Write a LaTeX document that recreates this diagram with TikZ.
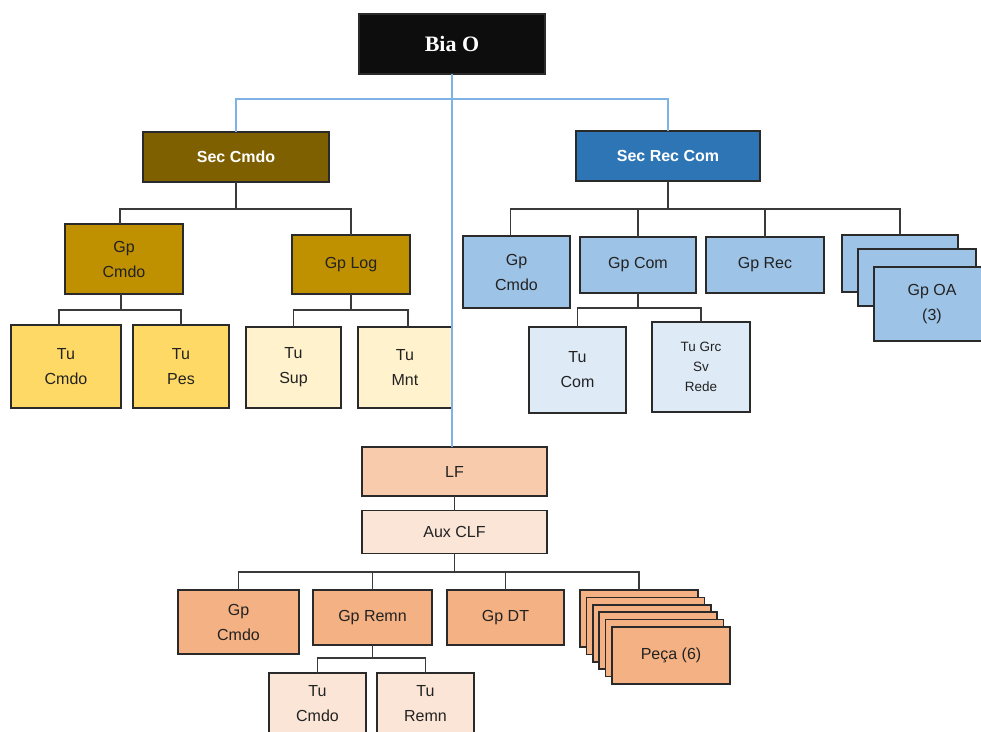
\documentclass[tikz,border=0pt]{standalone}
\usepackage{fontspec}
\setmainfont{Liberation Sans}
\newfontfamily\titlefont{Liberation Serif}

% fills
\definecolor{topblack}{HTML}{0D0D0D}
\definecolor{brownSec}{HTML}{7F6000}
\definecolor{goldGp}{HTML}{BF9000}
\definecolor{yellowTu}{HTML}{FFD966}
\definecolor{creamTu}{HTML}{FFF2CC}
\definecolor{blueSec}{HTML}{2E75B6}
\definecolor{blueGp}{HTML}{9DC3E6}
\definecolor{paleblueTu}{HTML}{DEEBF7}
\definecolor{peachLF}{HTML}{F8CBAD}
\definecolor{palepeach}{HTML}{FBE5D6}
\definecolor{orangeGp}{HTML}{F4B183}
% lines and text
\definecolor{boxline}{HTML}{2A2A2A}
\definecolor{linkline}{HTML}{3A3A3A}
\definecolor{bluelinkcol}{HTML}{7FB2E5}
\definecolor{labeltext}{HTML}{222222}

\tikzset{
  box/.style={draw=boxline, line width=1.6pt, inner sep=0pt, outer sep=0pt,
    align=center, text=labeltext, font=\fontsize{16}{25}\selectfont},
  sz/.style 2 args={minimum width=#1pt, minimum height=#2pt},
  headbox/.style={box, text=white, font=\bfseries\fontsize{16}{18}\selectfont},
  smalltext/.style={font=\fontsize{13.5}{20}\selectfont},
  link/.style={draw=linkline, line width=1.8pt},
  bluelink/.style={draw=bluelinkcol, line width=1.6pt}
}

\begin{document}
\begin{tikzpicture}[x=1pt, y=-1pt]
\useasboundingbox (0,0) rectangle (981,731);
\clip (0,0) rectangle (981,731);
\fill[white] (0,0) rectangle (981,731);

% bus levels
\coordinate (busTop) at (0,99);
\coordinate (busSecC) at (0,209);
\coordinate (busGpL) at (0,310);
\coordinate (busSecR) at (0,209);
\coordinate (busGpCom) at (0,308);
\coordinate (busAux) at (0,572);
\coordinate (busRemn) at (0,658);

% ---------- top ----------
\node[box, fill=topblack, text=white, sz={186}{60},
      font=\titlefont\bfseries\fontsize{22}{26}\selectfont] (biao) at (452,44) {Bia O};

% ---------- Sec Cmdo branch ----------
\node[headbox, fill=brownSec, sz={186}{50}] (seccmdo) at (236,157) {Sec Cmdo};
\node[box, fill=goldGp, sz={118}{70}] (gpcmdoA) at (124,259) {Gp\\Cmdo};
\node[box, fill=goldGp, sz={118}{59}] (gplog) at (351,264.5) {Gp Log};
\node[box, fill=yellowTu, sz={110}{83}] (tucmdoA) at (66,366.5) {Tu\\Cmdo};
\node[box, fill=yellowTu, sz={96}{83}] (tupes) at (181,366.5) {Tu\\Pes};
\node[box, fill=creamTu, sz={95}{81}] (tusup) at (293.5,367.5) {Tu\\Sup};
\node[box, fill=creamTu, sz={94}{81}] (tumnt) at (405,367.5) {Tu\\Mnt};

% ---------- Sec Rec Com branch ----------
\node[headbox, fill=blueSec, sz={184}{50}] (secrec) at (668,156) {Sec Rec Com};
\node[box, fill=blueGp, sz={107}{72}] (gpcmdoB) at (516.5,272) {Gp\\Cmdo};
\node[box, fill=blueGp, sz={116}{56}] (gpcom) at (638,265) {Gp Com};
\node[box, fill=blueGp, sz={118}{56}] (gprec) at (765,265) {Gp Rec};
\node[box, fill=blueGp, sz={116}{57}] (oa1) at (900,263.5) {};
\node[box, fill=blueGp, sz={118}{57}] (oa2) at (917,277.5) {};
\node[box, fill=blueGp, sz={116}{74}] (oa3) at (932,304) {Gp OA\\(3)};
\node[box, fill=paleblueTu, sz={97}{86}] (tucom) at (577.5,370) {Tu\\Com};
\node[box, fill=paleblueTu, sz={98}{90}, smalltext] (tugrc) at (701,367) {Tu Grc\\Sv\\Rede};

% ---------- LF branch ----------
\node[box, fill=peachLF, sz={185}{49}] (lf) at (454.5,471.5) {LF};
\node[box, fill=palepeach, sz={185}{43}] (aux) at (454.5,532) {Aux CLF};
\node[box, fill=orangeGp, sz={121}{64}] (gpcmdoC) at (238.5,622) {Gp\\Cmdo};
\node[box, fill=orangeGp, sz={119}{55}] (gpremn) at (372.5,617.5) {Gp Remn};
\node[box, fill=orangeGp, sz={117}{55}] (gpdt) at (505.5,617.5) {Gp DT};
\foreach \i in {0,...,4}
  \node[box, fill=orangeGp, sz={118}{57}] (peca\i) at ({639+6.4*\i},{618.5+7.4*\i}) {};
\node[box, fill=orangeGp, sz={118}{57}] (peca5) at (671,655.5) {Peça (6)};
\node[box, fill=palepeach, sz={97}{62}] (tucmdoC) at (317.5,704) {Tu\\Cmdo};
\node[box, fill=palepeach, sz={97}{62}] (turemn) at (425.5,704) {Tu\\Remn};

% connector end points set slightly off the box centres
\coordinate (gpcmdoAtop) at ([xshift=-4pt]gpcmdoA.north);
\coordinate (gpcmdoAbot) at ([xshift=-3pt]gpcmdoA.south);
\coordinate (tucmdoAtop) at ([xshift=-7pt]tucmdoA.north);
\coordinate (tumnttop) at ([xshift=3pt]tumnt.north);
\coordinate (gpcmdoBtop) at ([xshift=-6pt]gpcmdoB.north);

% ---------- blue links from Bia O ----------
\draw[bluelink] (biao.south) -- (biao.south |- lf.north);
\draw[bluelink] (seccmdo.north) -- (seccmdo.north |- busTop) -| (secrec.north);

% ---------- Sec Cmdo links ----------
\draw[link] (seccmdo.south) -- (seccmdo.south |- busSecC);
\draw[link] (gpcmdoAtop) |- (busSecC -| gplog.north) -- (gplog.north);
\draw[link] (gpcmdoAbot) -- (gpcmdoAbot |- busGpL);
\draw[link] (tucmdoAtop) |- (busGpL -| tupes.north) -- (tupes.north);
\draw[link] (gplog.south) -- (gplog.south |- busGpL);
\draw[link] (tusup.north) |- (busGpL -| tumnttop) -- (tumnttop);

% ---------- Sec Rec Com links ----------
\draw[link] (secrec.south) -- (secrec.south |- busSecR);
\draw[link] (gpcmdoBtop) |- (busSecR -| oa1.north) -- (oa1.north);
\draw[link] (gpcom.north) -- (gpcom.north |- busSecR);
\draw[link] (gprec.north) -- (gprec.north |- busSecR);
\draw[link] (gpcom.south) -- (gpcom.south |- busGpCom);
\draw[link] (tucom.north) |- (busGpCom -| tugrc.north) -- (tugrc.north);

% ---------- LF links ----------
\draw[link] (lf.south) -- (aux.north);
\draw[link] (aux.south) -- (aux.south |- busAux);
\draw[link] (gpcmdoC.north) |- (busAux -| peca0.north) -- (peca0.north);
\draw[link] (gpremn.north) -- (gpremn.north |- busAux);
\draw[link] (gpdt.north) -- (gpdt.north |- busAux);
\draw[link] (gpremn.south) -- (gpremn.south |- busRemn);
\draw[link] (tucmdoC.north) |- (busRemn -| turemn.north) -- (turemn.north);
\end{tikzpicture}
\end{document}
